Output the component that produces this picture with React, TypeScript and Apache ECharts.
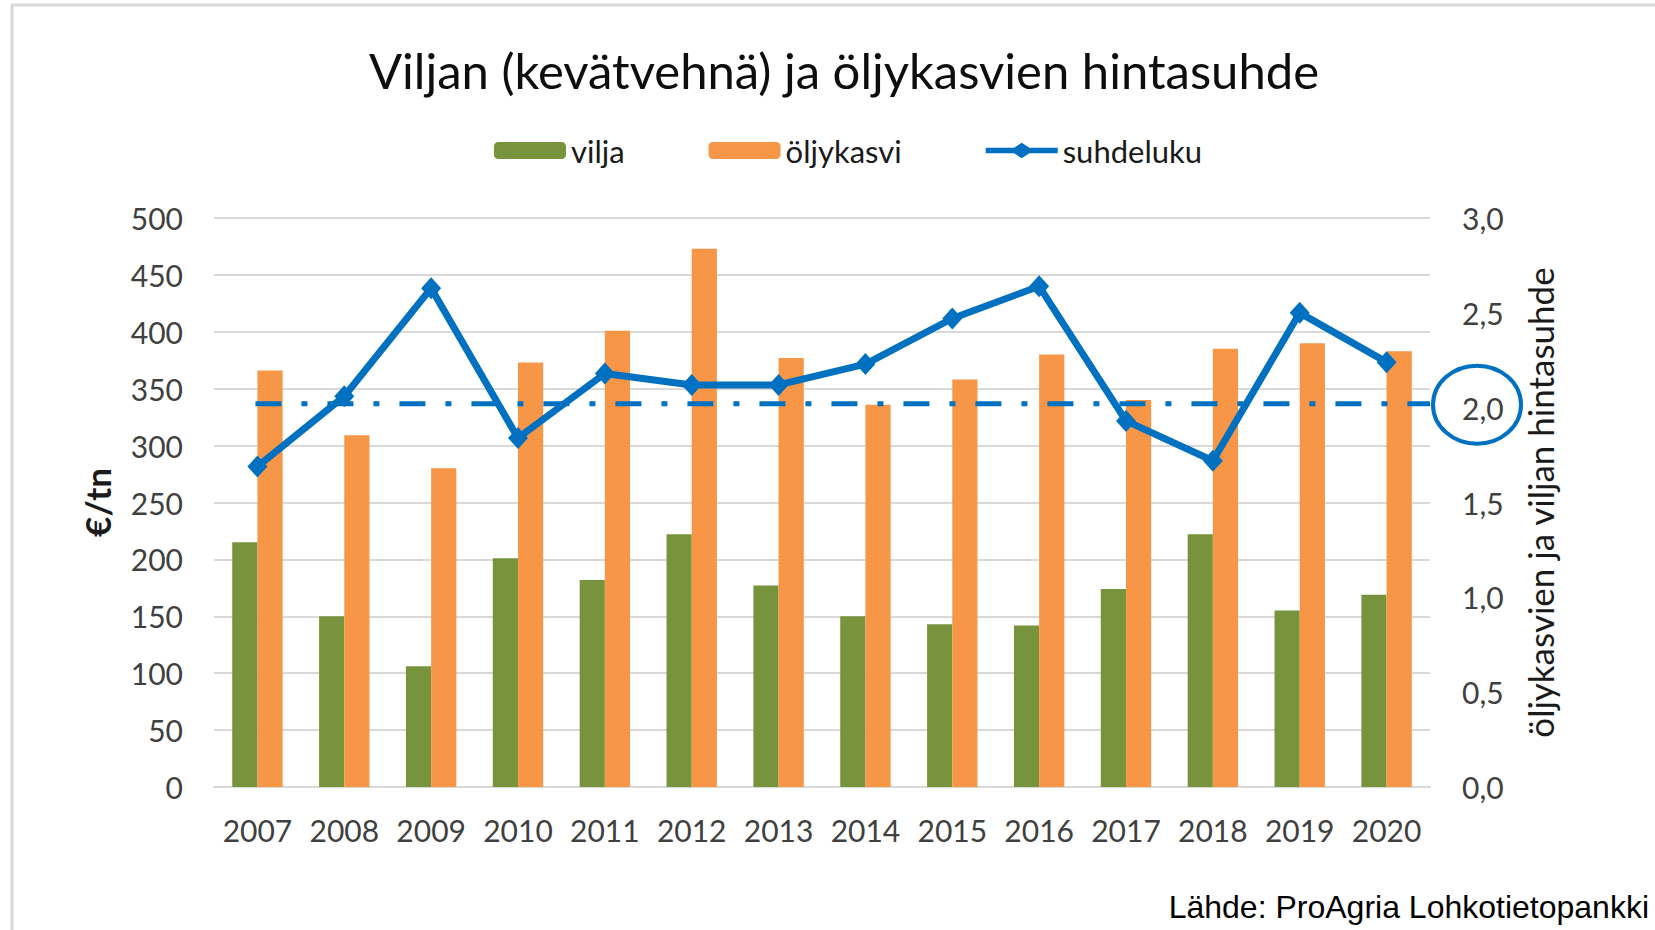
import React, { useEffect, useRef } from "react";
import * as echarts from "echarts";

const years = ["2007", "2008", "2009", "2010", "2011", "2012", "2013", "2014", "2015", "2016", "2017", "2018", "2019", "2020"];
const vilja = [215, 150, 106, 201, 182, 222, 177, 150, 143, 142, 174, 222, 155, 169];
const oljykasvi = [366, 309, 280, 373, 401, 473, 377, 336, 358, 380, 340, 385, 390, 383];
const suhdeluku = [1.69, 2.06, 2.63, 1.84, 2.18, 2.12, 2.12, 2.23, 2.47, 2.64, 1.93, 1.72, 2.5, 2.24];
const referenceRatio = 2.02;
const highlightedTick = 2.0;
const leftMax = 500;
const leftInterval = 50;
const rightMax = 3;
const rightInterval = 0.5;

const titleText = "Viljan (kevätvehnä) ja öljykasvien hintasuhde";
const sourceText = "Lähde: ProAgria Lohkotietopankki";
const leftAxisName = "€/tn";
const rightAxisName = "öljykasvien ja viljan hintasuhde";

const GREEN = "#77933C";
const ORANGE = "#F79646";
const BLUE = "#0070C0";
const GRID = "#D9D9D9";
const LABEL = "#404040";
const FONT = "Lato";

const LINE_LEGEND_ICON =
  "path://M0,5.5 H31.5 L40,0 L48.5,5.5 H80 V11.5 H48.5 L40,17 L31.5,11.5 H0 Z";

export default function App() {
  const ref = useRef<HTMLDivElement>(null);
  useEffect(() => {
    if (!ref.current) return;
    const chart = echarts.init(ref.current, null, { renderer: "svg" });
    const option: any = {
      animation: false,
      backgroundColor: "#ffffff",
      textStyle: { fontFamily: FONT },
      legend: {
        left: 489,
        top: 130,
        itemWidth: 72,
        itemHeight: 17,
        itemGap: 84,
        textStyle: { fontSize: 31, fontFamily: FONT, color: "#1a1a1a", padding: [0, 0, 0, 0] },
        data: [
          { name: "vilja" },
          { name: "öljykasvi" },
          { name: "suhdeluku", icon: LINE_LEGEND_ICON, itemStyle: { color: BLUE } },
        ],
      },
      grid: { left: 214, right: 225, top: 218, bottom: 143, containLabel: false },
      xAxis: {
        type: "category",
        data: years,
        axisLine: { show: true, lineStyle: { color: GRID, width: 2 } },
        axisTick: { show: false },
        axisLabel: { interval: 0, fontSize: 30, fontFamily: FONT, color: LABEL, margin: 28 },
      },
      yAxis: [
        {
          type: "value",
          min: 0,
          max: leftMax,
          interval: leftInterval,
          name: leftAxisName,
          nameLocation: "middle",
          nameRotate: 90,
          nameGap: 100,
          nameTextStyle: { fontSize: 35, fontFamily: FONT, color: "#1a1a1a", fontWeight: "bold" },
          axisLine: { show: false },
          axisTick: { show: false },
          splitLine: { lineStyle: { color: GRID, width: 2 } },
          axisLabel: { fontSize: 30, fontFamily: FONT, color: LABEL, margin: 31 },
        },
        {
          type: "value",
          min: 0,
          max: rightMax,
          interval: rightInterval,
          name: rightAxisName,
          nameLocation: "middle",
          nameRotate: 90,
          nameGap: 92,
          nameTextStyle: { fontSize: 35, fontFamily: FONT, color: "#1a1a1a" },
          axisLine: { show: false },
          axisTick: { show: false },
          splitLine: { show: false },
          axisLabel: {
            fontSize: 30,
            fontFamily: FONT,
            color: LABEL,
            margin: 32,
            formatter: (v: number) => v.toFixed(1).replace(".", ","),
          },
        },
      ],
      series: [
        {
          name: "vilja",
          type: "bar",
          data: vilja,
          itemStyle: { color: GREEN },
          barGap: "0%",
          barCategoryGap: "42%",
          z: 2,
        },
        {
          name: "öljykasvi",
          type: "bar",
          data: oljykasvi,
          itemStyle: { color: ORANGE },
          barGap: "0%",
          barCategoryGap: "42%",
          z: 2,
        },
        {
          name: "suhdeluku",
          type: "line",
          yAxisIndex: 1,
          data: suhdeluku,
          symbol: "diamond",
          symbolSize: [20, 22],
          lineStyle: { color: BLUE, width: 7 },
          itemStyle: { color: BLUE },
          z: 5,
        },
      ],
    };
    chart.setOption(option);

    const x0 = chart.convertToPixel({ xAxisIndex: 0 }, years[0]) as number;
    const x1c = chart.convertToPixel({ xAxisIndex: 0 }, years[1]) as number;
    const xLast = chart.convertToPixel({ xAxisIndex: 0 }, years[years.length - 1]) as number;
    const band = x1c - x0;
    const xRight = xLast + band / 2;
    const yRef = chart.convertToPixel({ yAxisIndex: 1 }, referenceRatio) as number;
    const yHi = chart.convertToPixel({ yAxisIndex: 1 }, highlightedTick) as number;

    chart.setOption({
      graphic: [
        {
          type: "rect",
          shape: { x: 12, y: 5, width: 1700, height: 1000 },
          style: { fill: "none", stroke: "#D9D9D9", lineWidth: 3 },
          silent: true,
          z: 0,
        },
        {
          type: "text",
          x: 844,
          y: 70,
          style: {
            text: titleText,
            fontSize: 49,
            fontFamily: FONT,
            fill: "#0d0d0d",
            align: "center",
            verticalAlign: "middle",
          },
        },
        {
          type: "text",
          x: 1649,
          y: 907,
          style: {
            text: sourceText,
            fontSize: 32,
            fontFamily: "Liberation Sans, Arial, sans-serif",
            fill: "#000000",
            align: "right",
            verticalAlign: "middle",
          },
        },
        {
          type: "line",
          shape: { x1: x0 - 2, y1: yRef, x2: xRight, y2: yRef },
          style: { stroke: BLUE, lineWidth: 5, lineDash: [26, 20, 6, 20] },
          z: 3,
          silent: true,
        },
        {
          type: "ellipse",
          shape: { cx: xRight + 47, cy: yHi - 3, rx: 44, ry: 39 },
          style: { fill: "none", stroke: BLUE, lineWidth: 4 },
          z: 3,
          silent: true,
        },
      ],
    });

    return () => chart.dispose();
  }, []);
  return (
    <div
      ref={ref}
      style={{ position: "fixed", left: 0, top: 0, width: 1655, height: 930, background: "#fff" }}
    />
  );
}
